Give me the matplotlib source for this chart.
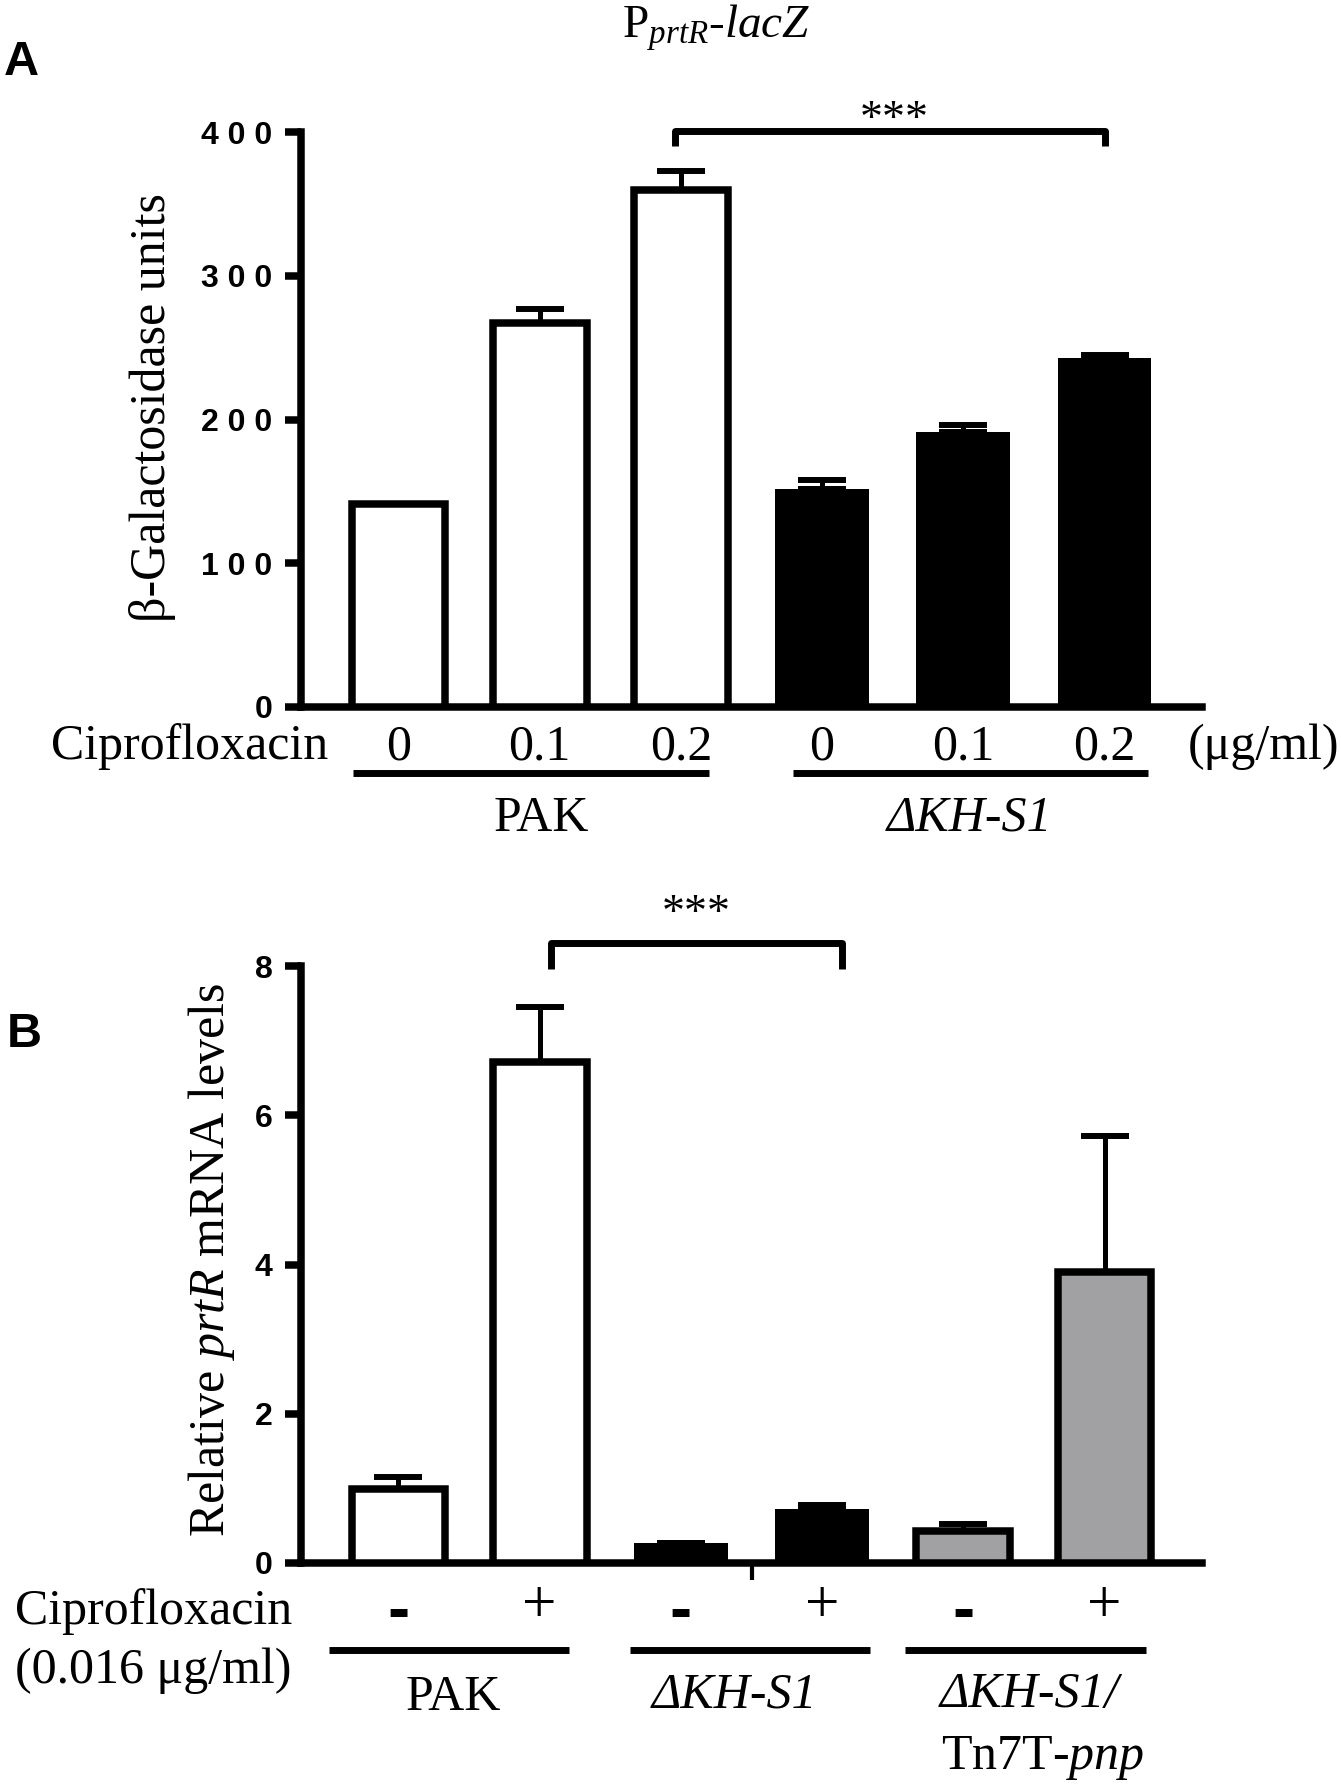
import matplotlib
matplotlib.use('Agg')
import matplotlib.pyplot as plt
import matplotlib.transforms as mtransforms
import numpy as np

plt.rcParams['mathtext.fontset'] = 'custom'
plt.rcParams['mathtext.rm'] = 'Liberation Serif'
plt.rcParams['mathtext.it'] = 'Liberation Serif:italic'
plt.rcParams['mathtext.bf'] = 'Liberation Serif:bold'

SERIF = ['Liberation Serif', 'DejaVu Serif']
SANS = ['Liberation Sans', 'DejaVu Sans']

# panel A: beta-galactosidase
a_conc = ['0', '0.1', '0.2', '0', '0.1', '0.2']
a_values = [141, 267, 360, 152, 191, 243]
a_errors = [0, 10, 13, 6, 5, 2]
a_colors = ['white', 'white', 'white', 'black', 'black', 'black']
a_ticks = [0, 100, 200, 300, 400]
a_ticklabels = ['0', '1 0 0', '2 0 0', '3 0 0', '4 0 0']
a_groups = ['PAK', 'ΔKH-S1']

# panel B: relative prtR mRNA
b_cipro = ['-', '+', '-', '+', '-', '+']
b_values = [0.99, 6.72, 0.27, 0.72, 0.43, 3.90]
b_errors = [0.16, 0.73, 0, 0.06, 0.09, 1.82]
b_colors = ['white', 'white', 'black', 'black', '#a1a1a4', '#a1a1a4']
b_ticks = [0, 2, 4, 6, 8]
b_ticklabels = ['0', '2', '4', '6', '8']

W, H = 1341, 1786
LW = 5.4


def fy(px):
    return 1 - px / H


def fx(px):
    return px / W


fig = plt.figure(figsize=(W / 100, H / 100), dpi=100)
axA = fig.add_axes([fx(301), fy(707), fx(1202) - fx(301), fy(132) - fy(707)])
axB = fig.add_axes([fx(301), fy(1563), fx(1202) - fx(301), fy(966) - fy(1563)])


def draw_bars(ax, values, errors, colors, ticks, ticklabels, ymax):
    x = np.arange(len(values))
    lws = [0 if c == 'black' else LW for c in colors]
    ax.bar(x, values, width=0.664, color=colors, edgecolor='black',
           linewidth=lws, zorder=3)
    ax.errorbar(x, values, yerr=[np.zeros(len(errors)), errors], fmt='none',
                ecolor='black', elinewidth=3.6, capsize=17, capthick=4.3,
                zorder=2)
    ax.set_xlim(-0.69, 5.69)
    ax.set_ylim(0, ymax)
    for s in ['top', 'right']:
        ax.spines[s].set_visible(False)
    for s in ['left', 'bottom']:
        ax.spines[s].set_linewidth(LW)
    ax.set_yticks(ticks)
    ax.set_yticklabels(ticklabels, fontsize=23, fontweight='bold',
                       family=SANS)
    ax.tick_params(axis='y', length=11.5, width=LW, pad=9)
    return x


xa = draw_bars(axA, a_values, a_errors, a_colors, a_ticks, a_ticklabels, 400)
xb = draw_bars(axB, b_values, b_errors, b_colors, b_ticks, b_ticklabels, 8)
axA.set_xticks([])
axB.set_xticks([2.5])
axB.set_xticklabels([''])
axB.tick_params(axis='x', length=12, width=3)

trA = mtransforms.blended_transform_factory(axA.transData, fig.transFigure)
trB = mtransforms.blended_transform_factory(axB.transData, fig.transFigure)

# significance brackets
axA.plot([1.96, 1.96, 5.0, 5.0], [390, 401, 401, 390], color='black', lw=5,
         clip_on=False, solid_capstyle='butt')
axA.text(3.51, 400, '***', fontsize=33, family=SERIF, ha='center',
         va='baseline')
axB.plot([1.08, 1.08, 3.14, 3.14], [7.96, 8.31, 8.31, 7.96], color='black',
         lw=5, clip_on=False, solid_capstyle='butt')
axB.text(2.11, 8.53, '***', fontsize=33, family=SERIF, ha='center',
         va='baseline')

# titles, panel letters, axis labels
fig.text(fx(622), fy(38), r'$\mathrm{P}_{\mathit{prtR}}$-$\mathit{lacZ}$',
         fontsize=34, family=SERIF, ha='left', va='baseline')
fig.text(fx(4), fy(75), 'A', fontsize=35, fontweight='bold', family=SANS,
         ha='left', va='baseline')
fig.text(fx(7), fy(1047), 'B', fontsize=35, fontweight='bold', family=SANS,
         ha='left', va='baseline')
fig.text(fx(152), fy(408), 'β-Galactosidase units', fontsize=36,
         family=SERIF, rotation=90, ha='center', va='center')
fig.text(fx(212), fy(1260), r'Relative $\mathit{prtR}$ mRNA levels',
         fontsize=36, family=SERIF, rotation=90, ha='center', va='center')

# panel A x annotations
fig.text(fx(328), fy(759), 'Ciprofloxacin', fontsize=36, family=SERIF,
         ha='right', va='baseline')
fig.text(fx(1188), fy(759), '(μg/ml)', fontsize=36, family=SERIF,
         ha='left', va='baseline')
for xi, lab in zip(xa, a_conc):
    axA.text(xi, fy(759), lab, transform=trA, fontsize=36, family=SERIF,
             ha='center', va='baseline')
for (x0, x1) in [(-0.325, 2.196), (2.797, 5.31)]:
    axA.plot([x0, x1], [fy(773), fy(773)], transform=trA, color='black',
             lw=5, clip_on=False, solid_capstyle='butt')
axA.text(1.01, fy(831), a_groups[0], transform=trA, fontsize=36,
         family=SERIF, ha='center', va='baseline')
axA.text(4.04, fy(831), a_groups[1], transform=trA, fontsize=36,
         family='Liberation Serif', style='italic', ha='center',
         va='baseline')

# panel B x annotations
fig.text(fx(15), fy(1624), 'Ciprofloxacin', fontsize=36, family=SERIF,
         ha='left', va='baseline')
fig.text(fx(15), fy(1683), '(0.016 μg/ml)', fontsize=36, family=SERIF,
         ha='left', va='baseline')
for xi, lab in zip(xb, b_cipro):
    if lab == '-':
        axB.text(xi, fy(1630), lab, transform=trB, fontsize=48,
                 family=SANS, fontweight='bold', ha='center',
                 va='baseline')
    else:
        axB.text(xi, fy(1622), lab, transform=trB, fontsize=44,
                 family=SERIF, ha='center', va='baseline')
for (x0, x1) in [(-0.49, 1.21), (1.64, 3.34), (3.59, 5.29)]:
    axB.plot([x0, x1], [fy(1650), fy(1650)], transform=trB, color='black',
             lw=5, clip_on=False, solid_capstyle='butt')
axB.text(0.39, fy(1710), 'PAK', transform=trB, fontsize=36, family=SERIF,
         ha='center', va='baseline')
axB.text(2.38, fy(1707), 'ΔKH-S1', transform=trB, fontsize=36,
         family='Liberation Serif', style='italic', ha='center',
         va='baseline')
axB.text(3.83, fy(1707), 'ΔKH-S1/', transform=trB, fontsize=36,
         family='Liberation Serif', style='italic', ha='left',
         va='baseline')
axB.text(3.84, fy(1769), r'Tn7T-$\mathit{pnp}$', transform=trB, fontsize=36,
         family=SERIF, ha='left', va='baseline')

fig.savefig('out.png', dpi=100)
